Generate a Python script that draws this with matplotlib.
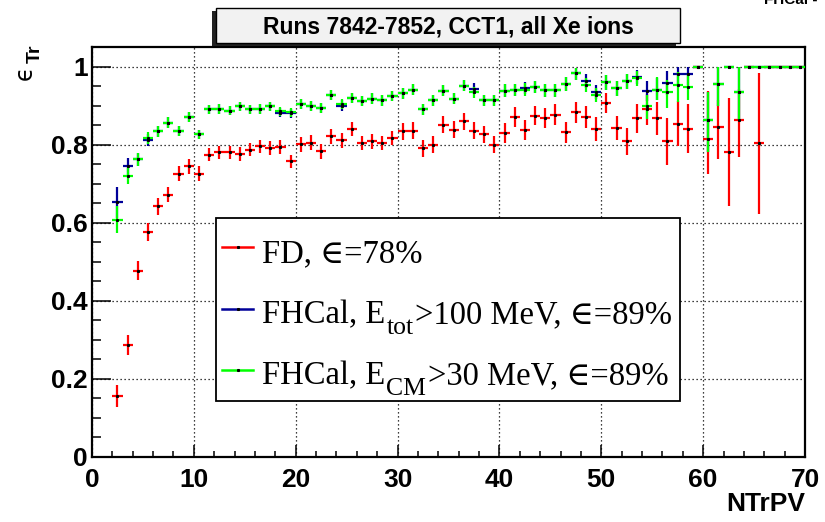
import numpy as np
import matplotlib
matplotlib.use("Agg")
import matplotlib.pyplot as plt
from matplotlib.patches import Rectangle
from matplotlib.lines import Line2D
from matplotlib.font_manager import FontProperties

# ---------------- data ----------------
ntrpv = [2.5, 3.5, 4.5, 5.5, 6.5, 7.5, 8.5, 9.5, 10.5, 11.5, 12.5, 13.5, 14.5, 15.5,
         16.5, 17.5, 18.5, 19.5, 20.5, 21.5, 22.5, 23.5, 24.5, 25.5, 26.5, 27.5, 28.5,
         29.5, 30.5, 31.5, 32.5, 33.5, 34.5, 35.5, 36.5, 37.5, 38.5, 39.5, 40.5, 41.5,
         42.5, 43.5, 44.5, 45.5, 46.5, 47.5, 48.5, 49.5, 50.5, 51.5, 52.5, 53.5, 54.5,
         55.5, 56.5, 57.5, 58.5, 59.5, 60.5, 61.5, 62.5, 63.5, 64.5, 65.5, 66.5, 67.5,
         68.5, 69.5]

fd_eff = [0.157, 0.286, 0.477, 0.576, 0.642, 0.672, 0.726, 0.744, 0.725, 0.774, 0.780,
          0.780, 0.776, 0.787, 0.796, 0.791, 0.794, 0.757, 0.801, 0.805, 0.783, 0.821,
          0.811, 0.840, 0.804, 0.809, 0.804, 0.817, 0.834, 0.836, 0.791, 0.800, 0.851,
          0.838, 0.860, 0.836, 0.826, 0.800, 0.830, 0.871, 0.838, 0.874, 0.868, 0.877,
          0.832, 0.883, 0.871, 0.840, 0.907, 0.842, 0.808, 0.867, 0.890, 0.867, 0.808,
          0.854, 0.841, 1.000, 0.815, 0.845, 0.780, 0.862, 1.000, 0.804, 1.000, 1.000,
          1.000, 1.000]
fd_lo = [0.028, 0.026, 0.024, 0.022, 0.021, 0.020, 0.019, 0.019, 0.019, 0.017, 0.017,
         0.017, 0.017, 0.017, 0.017, 0.017, 0.017, 0.017, 0.019, 0.019, 0.019, 0.019,
         0.019, 0.019, 0.019, 0.019, 0.019, 0.019, 0.022, 0.022, 0.022, 0.022, 0.022,
         0.022, 0.022, 0.022, 0.022, 0.022, 0.025, 0.025, 0.025, 0.025, 0.025, 0.026,
         0.027, 0.027, 0.028, 0.030, 0.025, 0.031, 0.034, 0.036, 0.040, 0.043, 0.061,
         0.057, 0.062, 0.0, 0.089, 0.082, 0.137, 0.094, 0.0, 0.181, 0.0, 0.0, 0.0, 0.0]
fd_hi = [0.028, 0.026, 0.024, 0.022, 0.021, 0.020, 0.019, 0.019, 0.019, 0.017, 0.017,
         0.017, 0.017, 0.017, 0.017, 0.017, 0.017, 0.017, 0.019, 0.019, 0.019, 0.019,
         0.019, 0.019, 0.019, 0.019, 0.019, 0.019, 0.022, 0.022, 0.022, 0.022, 0.022,
         0.022, 0.022, 0.022, 0.022, 0.022, 0.025, 0.025, 0.025, 0.025, 0.025, 0.026,
         0.027, 0.027, 0.028, 0.030, 0.025, 0.031, 0.034, 0.036, 0.040, 0.043, 0.061,
         0.057, 0.062, 0.0, 0.122, 0.070, 0.139, 0.080, 0.0, 0.180, 0.0, 0.0, 0.0, 0.0]

etot_eff = [0.652, 0.744, 0.762, 0.812, 0.834, 0.856, 0.834, 0.871, 0.826, 0.890, 0.891,
            0.887, 0.898, 0.890, 0.891, 0.898, 0.882, 0.880, 0.903, 0.899, 0.894, 0.928,
            0.900, 0.920, 0.911, 0.918, 0.913, 0.924, 0.932, 0.941, 0.891, 0.913, 0.938,
            0.917, 0.951, 0.943, 0.913, 0.913, 0.938, 0.940, 0.945, 0.947, 0.939, 0.940,
            0.956, 0.984, 0.964, 0.935, 0.960, 0.945, 0.962, 0.974, 0.937, 0.941, 0.958,
            0.982, 0.982, 1.000, 0.862, 0.954, 1.000, 0.934, 1.000, 1.000, 1.000, 1.000,
            1.000, 1.000]
etot_lo = [0.040, 0.022, 0.017, 0.015, 0.014, 0.014, 0.013, 0.012, 0.012, 0.012, 0.012,
           0.012, 0.012, 0.012, 0.012, 0.012, 0.012, 0.012, 0.013, 0.013, 0.013, 0.013,
           0.013, 0.013, 0.013, 0.013, 0.013, 0.013, 0.014, 0.014, 0.014, 0.014, 0.014,
           0.014, 0.014, 0.014, 0.014, 0.014, 0.016, 0.016, 0.016, 0.016, 0.016, 0.018,
           0.018, 0.018, 0.018, 0.018, 0.020, 0.020, 0.020, 0.020, 0.025, 0.028, 0.030,
           0.030, 0.030, 0.0, 0.080, 0.054, 0.0, 0.072, 0.0, 0.0, 0.0, 0.0, 0.0, 0.0]
etot_hi = [0.040, 0.022, 0.017, 0.015, 0.014, 0.014, 0.013, 0.012, 0.012, 0.012, 0.012,
           0.012, 0.012, 0.012, 0.012, 0.012, 0.012, 0.012, 0.013, 0.013, 0.013, 0.013,
           0.013, 0.013, 0.013, 0.013, 0.013, 0.013, 0.014, 0.014, 0.014, 0.014, 0.014,
           0.014, 0.014, 0.014, 0.014, 0.014, 0.016, 0.016, 0.016, 0.016, 0.016, 0.016,
           0.016, 0.012, 0.016, 0.018, 0.018, 0.018, 0.018, 0.016, 0.025, 0.030, 0.030,
           0.018, 0.018, 0.0, 0.074, 0.046, 0.0, 0.066, 0.0, 0.0, 0.0, 0.0, 0.0, 0.0]

ecm_eff = [0.608, 0.719, 0.762, 0.817, 0.834, 0.856, 0.834, 0.871, 0.826, 0.890, 0.891,
           0.887, 0.898, 0.890, 0.891, 0.898, 0.885, 0.883, 0.903, 0.899, 0.894, 0.928,
           0.905, 0.920, 0.911, 0.918, 0.913, 0.924, 0.932, 0.941, 0.891, 0.913, 0.938,
           0.917, 0.951, 0.934, 0.913, 0.913, 0.938, 0.940, 0.941, 0.947, 0.939, 0.940,
           0.956, 0.984, 0.952, 0.926, 0.960, 0.945, 0.962, 0.971, 0.898, 0.941, 0.934,
           0.952, 0.947, 1.000, 0.862, 0.954, 1.000, 0.934, 1.000, 1.000, 1.000, 1.000,
           1.000, 1.000]
ecm_lo = [0.034, 0.020, 0.017, 0.015, 0.014, 0.014, 0.013, 0.012, 0.012, 0.012, 0.012,
          0.012, 0.012, 0.012, 0.012, 0.012, 0.012, 0.012, 0.013, 0.013, 0.013, 0.013,
          0.013, 0.013, 0.013, 0.013, 0.013, 0.013, 0.014, 0.014, 0.014, 0.014, 0.014,
          0.014, 0.014, 0.014, 0.014, 0.014, 0.016, 0.016, 0.016, 0.016, 0.016, 0.018,
          0.018, 0.018, 0.018, 0.018, 0.020, 0.020, 0.020, 0.020, 0.032, 0.028, 0.040,
          0.043, 0.034, 0.0, 0.080, 0.054, 0.0, 0.072, 0.0, 0.0, 0.0, 0.0, 0.0, 0.0]
ecm_hi = [0.034, 0.020, 0.017, 0.015, 0.014, 0.014, 0.013, 0.012, 0.012, 0.012, 0.012,
          0.012, 0.012, 0.012, 0.012, 0.012, 0.012, 0.012, 0.013, 0.013, 0.013, 0.013,
          0.013, 0.013, 0.013, 0.013, 0.013, 0.013, 0.014, 0.014, 0.014, 0.014, 0.014,
          0.014, 0.014, 0.014, 0.014, 0.014, 0.016, 0.016, 0.016, 0.016, 0.016, 0.016,
          0.016, 0.012, 0.018, 0.018, 0.018, 0.018, 0.018, 0.018, 0.030, 0.032, 0.032,
          0.034, 0.034, 0.0, 0.074, 0.046, 0.0, 0.066, 0.0, 0.0, 0.0, 0.0, 0.0, 0.0]

bin_half = 0.5
x_ticks = [0, 10, 20, 30, 40, 50, 60, 70]
y_ticks = [0, 0.2, 0.4, 0.6, 0.8, 1.0]
y_ticklabels = ['0', '0.2', '0.4', '0.6', '0.8', '1']

title = 'Runs 7842-7852, CCT1, all Xe ions'
# legend labels as (main, subscript, rest) pieces
label_parts = [('FD, ∈=78%', '', ''),
               ('FHCal, E', 'tot', '>100 MeV, ∈=89%'),
               ('FHCal, E', 'CM', '>30 MeV, ∈=89%')]
colors = ['#ff0000', '#000099', '#00ff00']

# ---------------- figure ----------------
W, H = 825, 522
fig = plt.figure(figsize=(W / 100, H / 100), dpi=100)
fig.patch.set_facecolor('white')

def fx(px):
    return px / W

def fy(py):
    return 1 - py / H

ax = fig.add_axes([fx(92), fy(457), (805 - 92) / W, (457 - 47) / H])
ax.set_xlim(0, 70)
ax.set_ylim(0, 1.05)

series = [(fd_eff, fd_lo, fd_hi), (etot_eff, etot_lo, etot_hi), (ecm_eff, ecm_lo, ecm_hi)]
for (yv, lo, hi), c in zip(series, colors):
    ax.errorbar(ntrpv, yv, yerr=[lo, hi], xerr=bin_half, fmt='none', ecolor=c,
                elinewidth=1.6, capsize=0, zorder=3)
for (yv, lo, hi), c in zip(series, colors):
    ax.plot(ntrpv, yv, linestyle='none', marker='s', markersize=1.2, color='black', zorder=4)

ax.set_xticks(x_ticks)
ax.set_xticklabels([str(t) for t in x_ticks])
ax.set_xticks(np.arange(0, 71, 2), minor=True)
ax.set_yticks(y_ticks)
ax.set_yticklabels(y_ticklabels)
ax.set_yticks(np.arange(0, 1.051, 0.05), minor=True)

tickfp = FontProperties(family='Liberation Sans', weight='bold', size=19)
for lab in ax.get_xticklabels() + ax.get_yticklabels():
    lab.set_fontproperties(tickfp)

ax.tick_params(axis='x', which='major', direction='in', length=8.6, width=1.1, pad=8,
               top=False, color='black')
ax.tick_params(axis='x', which='minor', direction='in', length=4.3, width=1.1, top=False)
ax.tick_params(axis='y', which='major', direction='in', length=13.7, width=1.1, pad=3,
               right=False)
ax.tick_params(axis='y', which='minor', direction='in', length=6.5, width=1.1, right=False)

ax.grid(True, which='major', color='black', linestyle=(0, (1, 2.2)), linewidth=0.9, zorder=1)
ax.set_axisbelow(True)
for s in ax.spines.values():
    s.set_linewidth(1.6)

# ---------------- legend (drawn as a box) ----------------
leg_box = Rectangle((fx(216), fy(401)), (680 - 216) / W, (401 - 218) / H,
                    transform=fig.transFigure, facecolor='white', edgecolor='black',
                    linewidth=1.3, zorder=5)
fig.patches.append(leg_box)
line_y = [247, 309, 370]
text_y = [262, 323, 384]
serif = ['Liberation Serif', 'DejaVu Serif']
renderer = fig.canvas.get_renderer()
for (main, sub, rest), c, ly, ty in zip(label_parts, colors, line_y, text_y):
    fig.lines.append(Line2D([fx(222), fx(253)], [fy(ly), fy(ly)], color=c, linewidth=1.8,
                            transform=fig.transFigure, zorder=6))
    fig.lines.append(Line2D([fx(237.5)], [fy(ly)], marker='s', markersize=1.2,
                            color='black', transform=fig.transFigure, zorder=7))
    t1 = fig.text(fx(262), fy(ty), main, family=serif, fontsize=23.5, va='baseline',
                  ha='left', zorder=7)
    if sub:
        x1 = t1.get_window_extent(renderer).x1
        t2 = fig.text(x1 / W + 0.0015, fy(ty + 11), sub, family=serif, fontsize=18.5,
                      va='baseline', ha='left', zorder=7)
        x2 = t2.get_window_extent(renderer).x1
        fig.text(x2 / W + 0.0015, fy(ty), rest, family=serif, fontsize=23.5,
                 va='baseline', ha='left', zorder=7)

# ---------------- title box ----------------
shadow = Rectangle((fx(212), fy(46)), (680 - 216) / W, (43 - 8) / H,
                   transform=fig.transFigure, facecolor='#222222', edgecolor='none', zorder=8)
tbox = Rectangle((fx(216), fy(43)), (680 - 216) / W, (43 - 8) / H,
                 transform=fig.transFigure, facecolor='#f2f2f2', edgecolor='black',
                 linewidth=1.0, zorder=9)
fig.patches.append(shadow)
fig.patches.append(tbox)
fig.text(fx(448), fy(33.5), title, family='Liberation Sans', weight='bold', fontsize=16.5,
         ha='center', va='baseline', zorder=10)

# top-right partially cut text
fig.text(fx(764), fy(4), 'FHCal -', family='Liberation Sans', weight='bold', fontsize=11,
         ha='left', va='baseline')

# ---------------- axis labels ----------------
fig.text(fx(25), fy(73), 'ϵ', family='DejaVu Sans', fontsize=17, rotation=90,
         ha='center', va='center')
fig.text(fx(35), fy(54), 'Tr', family='Liberation Sans', weight='bold', fontsize=14,
         rotation=90, ha='center', va='center')
fig.text(fx(805), fy(504), 'NTrPV', family='Liberation Sans', weight='bold', fontsize=19,
         ha='right', va='center')

fig.savefig('out.png', dpi=100)
